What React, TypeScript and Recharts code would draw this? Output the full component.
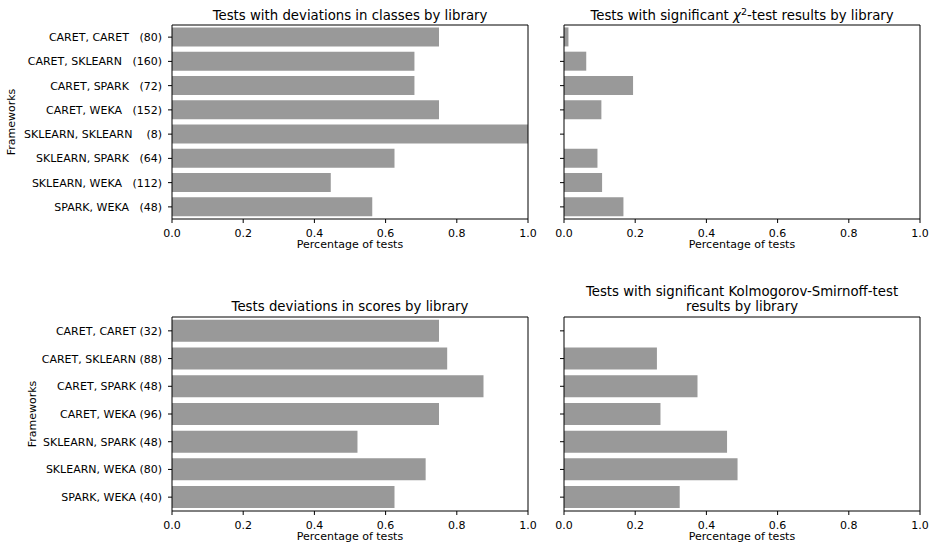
import React from 'react';
import { BarChart, Bar, XAxis, YAxis } from 'recharts';

const NB = '\u00a0';
const classNames = ['CARET, CARET', 'CARET, SKLEARN', 'CARET, SPARK', 'CARET, WEKA', 'SKLEARN, SKLEARN', 'SKLEARN, SPARK', 'SKLEARN, WEKA', 'SPARK, WEKA'];
const classCounts = ['(80)', '(160)', '(72)', '(152)', '(8)', '(64)', '(112)', '(48)'];
const classPadding = [3, 3, 3, 3, 4, 3, 3, 3];
const classShares = [0.75, 0.681, 0.681, 0.75, 1.0, 0.625, 0.446, 0.5625];
const chiShares = [0.0125, 0.0625, 0.194, 0.105, 0, 0.094, 0.107, 0.167];

const scoreTickLabels = ['CARET, CARET (32)', 'CARET, SKLEARN (88)', 'CARET, SPARK (48)', 'CARET, WEKA (96)', 'SKLEARN, SPARK (48)', 'SKLEARN, WEKA (80)', 'SPARK, WEKA (40)'];
const scoreShares = [0.75, 0.773, 0.875, 0.75, 0.521, 0.7125, 0.625];
const ksShares = [0, 0.261, 0.375, 0.271, 0.458, 0.4875, 0.325];

const xTicks = [0, 0.2, 0.4, 0.6, 0.8, 1.0];

const classTickLabels = classNames.map((n, i) => n + NB.repeat(classPadding[i]) + classCounts[i]);

const FONT = '"DejaVu Sans", sans-serif';

const renderTick = (props: any) => {
  const { x, y, payload } = props;
  return (
    <text x={x} y={y} dy="0.36em" textAnchor="end" fontSize={11} fill="#000" fontFamily={FONT} style={{ whiteSpace: 'pre' }}>
      {payload.value}
    </text>
  );
};
const emptyTick = () => <g />;

function Panel({ left, top, width, height, plot, labels, values, showLabels }: any) {
  const data = labels.map((l: string, i: number) => ({ name: l, value: values[i] }));
  const margin = { top: plot.y0 - top - 1, right: left + width - plot.x1 - 1, left: 0, bottom: 0 };
  const yW = plot.x0 - left;
  const xH = top + height - plot.y1;
  return (
    <div style={{ position: 'absolute', left, top, width, height }}>
      <BarChart width={width} height={height} data={data} layout="vertical" margin={margin} barCategoryGap="10%">
        <XAxis
          type="number"
          domain={[0, 1]}
          ticks={xTicks}
          interval={0}
          tickFormatter={(v: number) => v.toFixed(1)}
          height={xH}
          stroke="#000"
          tickSize={4}
          tickMargin={6}
          tickLine={{ stroke: '#000' }}
          tick={{ fill: '#000', fontSize: 11, fontFamily: FONT }}
        />
        <XAxis xAxisId="top" orientation="top" type="number" domain={[0, 1]} height={1} tick={false} tickLine={false} stroke="#000" axisLine={{ stroke: '#000' }} />
        <YAxis
          type="category"
          dataKey="name"
          width={yW}
          stroke="#000"
          tickSize={4}
          tickMargin={6}
          tickLine={{ stroke: '#000' }}
          interval={0}
          tick={showLabels ? renderTick : emptyTick}
        />
        <YAxis yAxisId="right" orientation="right" type="category" dataKey="name" width={1} tick={false} tickLine={false} stroke="#000" axisLine={{ stroke: '#000' }} />
        <Bar dataKey="value" fill="#999999" isAnimationActive={false} />
      </BarChart>
    </div>
  );
}

export default function App() {
  return (
    <div style={{ position: 'absolute', left: 0, top: 0, width: 935, height: 549, background: '#fff', fontFamily: FONT, overflow: 'hidden' }}>
      <Panel left={0} top={0} width={545} height={275} plot={{ x0: 172, y0: 25, x1: 528, y1: 219 }} labels={classTickLabels} values={classShares} showLabels />
      <Panel left={545} top={0} width={390} height={275} plot={{ x0: 564, y0: 25, x1: 920, y1: 219 }} labels={classTickLabels} values={chiShares} />
      <Panel left={0} top={280} width={545} height={269} plot={{ x0: 172, y0: 317, x1: 528, y1: 511 }} labels={scoreTickLabels} values={scoreShares} showLabels />
      <Panel left={545} top={280} width={390} height={269} plot={{ x0: 564, y0: 317, x1: 920, y1: 511 }} labels={scoreTickLabels} values={ksShares} />
      <svg width={935} height={549} style={{ position: 'absolute', left: 0, top: 0, pointerEvents: 'none' }} fontFamily={FONT} fill="#000">
        <text x={350} y={19.5} textAnchor="middle" fontSize={13.3}>Tests with deviations in classes by library</text>
        <text x={742} y={19.5} textAnchor="middle" fontSize={13.3}>
          Tests with significant <tspan fontStyle="italic">χ</tspan>
          <tspan dy={-5} fontSize={9.5}>2</tspan>
          <tspan dy={5}>-test results by library</tspan>
        </text>
        <text x={350} y={311} textAnchor="middle" fontSize={13.3}>Tests deviations in scores by library</text>
        <text x={742} y={296} textAnchor="middle" fontSize={13.3}>Tests with significant Kolmogorov-Smirnoff-test</text>
        <text x={742} y={311} textAnchor="middle" fontSize={13.3}>results by library</text>
        <text x={350} y={248} textAnchor="middle" fontSize={11}>Percentage of tests</text>
        <text x={742} y={248} textAnchor="middle" fontSize={11}>Percentage of tests</text>
        <text x={350} y={540} textAnchor="middle" fontSize={11}>Percentage of tests</text>
        <text x={742} y={540} textAnchor="middle" fontSize={11}>Percentage of tests</text>
        <text x={14.5} y={122} textAnchor="middle" fontSize={11} transform="rotate(-90 14.5 122)">Frameworks</text>
        <text x={36} y={414} textAnchor="middle" fontSize={11} transform="rotate(-90 36 414)">Frameworks</text>
      </svg>
    </div>
  );
}
